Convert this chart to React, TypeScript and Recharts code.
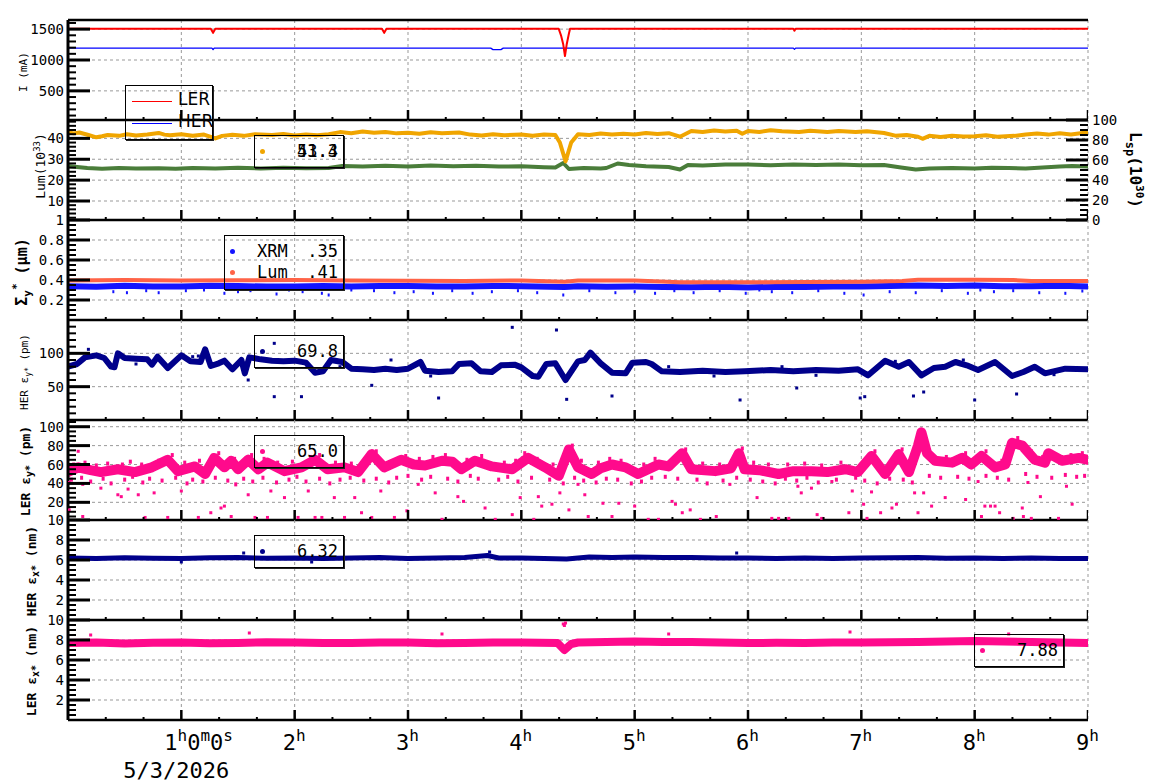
import React from "react";
import {
  ComposedChart,
  Line,
  Scatter,
  XAxis,
  YAxis,
  CartesianGrid,
  ReferenceLine,
  Legend,
  Label,
} from "recharts";

const MONO = "'DejaVu Sans Mono', monospace";
const SANS = "'DejaVu Sans', sans-serif";

// hours on the time axis (0h .. 9h), minor ticks every 20 min
const HOURS = [1, 2, 3, 4, 5, 6, 7, 8, 9];
const X_TICKS = [0, ...HOURS].flatMap((h) => (h < 9 ? [h, h + 1 / 3, h + 2 / 3] : [h]));
const DATE_LABEL = "5/3/2026";

// ---- panel 1 : beam currents (mA) ----
const LER_I = [[0, 1505], [1.26, 1505], [1.28, 1440], [1.3, 1505], [2.77, 1505], [2.79, 1440], [2.81, 1505], [4.33, 1505], [4.35, 1400], [4.37, 1250], [4.385, 1065], [4.4, 1250], [4.42, 1430], [4.43, 1505], [6.4, 1505], [6.41, 1475], [6.42, 1505], [9, 1505]];
const HER_I = [[0, 1192], [1.27, 1192], [1.28, 1168], [1.29, 1192], [3.73, 1192], [3.75, 1168], [3.82, 1168], [3.84, 1192], [6.4, 1192], [6.41, 1172], [6.42, 1192], [9, 1192]];

// ---- panel 2 : luminosity (left, 1e33) and specific lum (right, 1e30) ----
const LUM = [[0, 43], [0.05, 42.4], [0.1, 42.8], [0.18, 41.6], [0.25, 40.5], [0.3, 41], [0.35, 41.6], [0.45, 41.2], [0.52, 42], [0.6, 41.4], [0.7, 41.9], [0.8, 42.6], [0.85, 41.8], [0.9, 41.5], [1.0, 42], [1.1, 41.3], [1.2, 41.8], [1.3, 40], [1.36, 41.2], [1.45, 41.7], [1.55, 41.2], [1.65, 42], [1.8, 41.6], [1.9, 42.1], [2.0, 41.4], [2.1, 41.9], [2.2, 41.5], [2.3, 42], [2.4, 43], [2.5, 42.5], [2.6, 43.3], [2.7, 42.7], [2.8, 43.1], [2.9, 42.4], [3.0, 42.7], [3.1, 42.2], [3.2, 42.9], [3.3, 42.5], [3.45, 42.8], [3.55, 41.8], [3.65, 41.4], [3.75, 42], [3.85, 41.5], [4.0, 41.9], [4.1, 41.3], [4.2, 41.8], [4.3, 41.6], [4.34, 38], [4.39, 29], [4.44, 38], [4.5, 42], [4.6, 41.6], [4.7, 42.3], [4.8, 41.8], [4.9, 42.2], [5.0, 41.9], [5.1, 42.6], [5.2, 42.1], [5.3, 42.5], [5.4, 40.8], [5.5, 43.5], [5.6, 43.1], [5.7, 43.8], [5.8, 43.3], [5.9, 43.7], [5.95, 42.2], [6.0, 43.5], [6.1, 43.1], [6.2, 43.9], [6.3, 43.4], [6.45, 43], [6.55, 43.6], [6.7, 43.1], [6.8, 43.5], [6.95, 43], [7.05, 43.4], [7.2, 42.6], [7.3, 41.3], [7.4, 41.6], [7.5, 40.8], [7.54, 39.8], [7.6, 41.2], [7.7, 40.7], [7.8, 41.3], [7.9, 40.9], [8.0, 41], [8.1, 41.5], [8.2, 40.8], [8.35, 41.2], [8.45, 41.9], [8.55, 42.3], [8.65, 41.8], [8.75, 42.4], [8.85, 41.9], [8.95, 42.6], [9, 43]];
const LSP = [[0, 54], [0.08, 53], [0.17, 52], [0.3, 51.2], [0.45, 52], [0.6, 51.4], [0.8, 51.8], [0.95, 51.2], [1.1, 52], [1.3, 51.5], [1.5, 52.2], [1.7, 51.6], [1.9, 52.3], [2.1, 51.7], [2.3, 52.1], [2.42, 54], [2.6, 53.4], [2.8, 54.2], [3.0, 53.6], [3.2, 54.5], [3.4, 53.7], [3.6, 54.2], [3.8, 53.4], [4.0, 53.8], [4.2, 52.8], [4.3, 52.5], [4.37, 57], [4.42, 51], [4.55, 52], [4.7, 51.5], [4.75, 52], [4.85, 56.5], [4.95, 55], [5.1, 53.8], [5.3, 53], [5.4, 50.5], [5.47, 55], [5.6, 54.6], [5.8, 55.4], [6.0, 55.5], [6.2, 54.8], [6.4, 55.4], [6.6, 55], [6.8, 55.6], [7.0, 54.8], [7.2, 55], [7.35, 52.5], [7.48, 50.5], [7.6, 51.6], [7.8, 52], [8.0, 51.4], [8.15, 52.2], [8.3, 52], [8.45, 51.6], [8.6, 52.5], [8.75, 53.4], [8.86, 54], [9, 53.5]];

// ---- panel 3 : vertical beam size (um) ----
const SIG_XRM = [[0, 0.338], [0.25, 0.333], [0.5, 0.342], [0.75, 0.336], [1, 0.336], [1.25, 0.342], [1.5, 0.34], [1.75, 0.334], [2, 0.336], [2.25, 0.341], [2.5, 0.335], [2.75, 0.339], [3, 0.34], [3.25, 0.334], [3.5, 0.335], [3.75, 0.34], [4, 0.338], [4.38, 0.33], [4.5, 0.338], [4.75, 0.333], [5, 0.335], [5.25, 0.331], [5.5, 0.328], [5.75, 0.332], [6, 0.326], [6.25, 0.331], [6.5, 0.33], [6.75, 0.336], [7, 0.335], [7.25, 0.34], [7.5, 0.345], [7.75, 0.34], [8, 0.344], [8.25, 0.338], [8.5, 0.338], [8.75, 0.342], [9, 0.336]];
const SIG_LUM = [[0, 0.395], [0.5, 0.4], [1, 0.396], [1.5, 0.398], [2, 0.4], [2.5, 0.396], [3, 0.393], [3.5, 0.39], [4, 0.395], [4.38, 0.383], [4.5, 0.395], [5, 0.395], [5.4, 0.378], [6, 0.378], [6.5, 0.38], [7, 0.382], [7.36, 0.39], [7.5, 0.403], [8, 0.403], [8.34, 0.4], [8.5, 0.39], [9, 0.39]];
const SIG_XRM_OUT = [[0.4, 0.283], [0.52, 0.273], [0.69, 0.293], [0.8, 0.273], [1.04, 0.293], [1.2, 0.3], [1.38, 0.267], [1.5, 0.283], [1.61, 0.293], [1.84, 0.26], [1.95, 0.3], [2.07, 0.283], [2.24, 0.267], [2.3, 0.25], [2.5, 0.3], [2.7, 0.293], [2.88, 0.273], [3.05, 0.283], [3.22, 0.267], [3.39, 0.293], [3.57, 0.267], [3.74, 0.283], [3.97, 0.293], [4.14, 0.273], [4.37, 0.25], [4.6, 0.293], [4.83, 0.273], [5.0, 0.283], [5.18, 0.267], [5.35, 0.293], [5.52, 0.273], [5.75, 0.293], [5.98, 0.267], [6.1, 0.3], [6.21, 0.283], [6.39, 0.273], [6.62, 0.293], [6.85, 0.267], [7.02, 0.25], [7.25, 0.283], [7.48, 0.273], [7.71, 0.293], [7.94, 0.267], [8.05, 0.3], [8.17, 0.283], [8.34, 0.293], [8.57, 0.273], [8.8, 0.267], [8.95, 0.29]];

// ---- panel 4 : HER vertical emittance (pm) ----
const HER_EY = [[0, 80], [0.08, 84], [0.15, 94], [0.25, 97], [0.32, 93], [0.38, 80], [0.41, 79], [0.44, 100], [0.5, 93], [0.6, 92], [0.7, 91], [0.74, 83], [0.79, 95], [0.88, 78], [1.0, 97], [1.08, 88], [1.17, 87], [1.21, 106], [1.26, 81], [1.33, 85], [1.38, 89], [1.45, 76], [1.53, 90], [1.56, 70], [1.6, 94], [1.7, 91], [1.8, 89], [1.9, 88], [2.0, 89], [2.1, 86], [2.18, 71], [2.25, 73], [2.32, 90], [2.42, 87], [2.5, 77], [2.6, 76], [2.7, 75], [2.8, 77], [2.9, 75], [3.0, 77], [3.11, 87], [3.15, 74], [3.27, 72], [3.39, 73], [3.45, 84], [3.56, 85], [3.64, 73], [3.74, 72], [3.82, 82], [3.94, 83], [4.0, 79], [4.1, 66], [4.15, 65], [4.22, 84], [4.3, 85], [4.39, 60], [4.5, 88], [4.56, 90], [4.61, 101], [4.7, 85], [4.8, 71], [4.92, 70], [4.98, 86], [5.1, 87], [5.15, 84], [5.24, 73], [5.4, 72], [5.6, 74], [5.8, 72], [5.97, 73], [6.2, 75], [6.4, 73], [6.6, 75], [6.8, 74], [6.97, 76], [7.06, 67], [7.21, 89], [7.33, 80], [7.42, 87], [7.53, 67], [7.64, 78], [7.74, 80], [7.83, 87], [7.93, 82], [8.03, 75], [8.18, 87], [8.33, 66], [8.43, 72], [8.53, 80], [8.62, 70], [8.8, 77], [9.0, 76]];
const HER_EY_OUT = [[0.18, 106], [1.15, 96], [1.59, 60], [1.82, 35], [1.82, 115], [2.06, 35], [2.68, 52], [2.85, 90], [3.27, 33], [3.92, 139], [4.31, 135], [4.4, 31], [4.8, 36], [5.93, 30], [6.43, 48], [6.99, 33], [7.03, 35], [7.46, 36], [7.55, 42], [8.0, 30], [8.37, 39], [0.6, 84], [1.1, 95], [2.4, 80], [3.2, 66], [3.6, 78], [4.05, 72], [5.3, 80], [5.7, 66], [6.3, 80], [6.6, 67], [7.3, 88], [7.9, 90], [8.7, 68]];

// ---- panel 5 : LER vertical emittance (pm) ----
const LER_EY = [[0, 52], [0.09, 57], [0.2, 54], [0.29, 52], [0.44, 55], [0.59, 52], [0.74, 57], [0.88, 65], [0.97, 53], [1.12, 58], [1.21, 50], [1.29, 67], [1.38, 57], [1.44, 64], [1.5, 55], [1.59, 65], [1.68, 55], [1.76, 62], [1.91, 53], [2.06, 57], [2.18, 65], [2.29, 55], [2.44, 57], [2.56, 52], [2.68, 71], [2.79, 57], [2.94, 65], [3.05, 60], [3.15, 59], [3.3, 64], [3.39, 63], [3.47, 55], [3.59, 64], [3.74, 58], [3.92, 55], [4.06, 67], [4.21, 57], [4.33, 48], [4.42, 76], [4.5, 57], [4.62, 50], [4.7, 56], [4.8, 60], [4.92, 57], [5.03, 50], [5.21, 60], [5.3, 58], [5.42, 72], [5.5, 55], [5.71, 53], [5.85, 56], [5.92, 72], [5.97, 55], [6.1, 54], [6.27, 50], [6.4, 53], [6.56, 53], [6.7, 52], [6.86, 55], [6.97, 52], [7.09, 69], [7.21, 50], [7.33, 71], [7.42, 52], [7.5, 80], [7.53, 94], [7.58, 72], [7.65, 64], [7.8, 62], [7.89, 67], [7.97, 60], [8.06, 69], [8.18, 57], [8.27, 60], [8.33, 83], [8.42, 80], [8.53, 65], [8.62, 62], [8.65, 72], [8.77, 64], [8.92, 67], [9.0, 65]];
const LER_EY_UPPER = [[0.05, 60], [0.15, 62], [0.25, 59], [0.35, 61], [0.48, 60], [0.55, 63], [0.65, 60], [0.8, 64], [0.92, 70], [1.03, 62], [1.16, 64], [1.25, 60], [1.33, 72], [1.47, 66], [1.62, 70], [1.73, 66], [1.85, 62], [1.98, 63], [2.14, 68], [2.22, 70], [2.36, 62], [2.5, 61], [2.64, 66], [2.72, 74], [2.86, 63], [2.98, 69], [3.1, 66], [3.22, 68], [3.33, 70], [3.52, 65], [3.65, 69], [3.85, 62], [3.95, 64], [4.03, 72], [4.14, 66], [4.28, 60], [4.45, 80], [4.53, 64], [4.68, 62], [4.78, 66], [4.88, 64], [5.08, 60], [5.18, 66], [5.35, 66], [5.45, 76], [5.6, 61], [5.75, 60], [5.95, 77], [6.05, 62], [6.18, 60], [6.35, 60], [6.5, 61], [6.65, 59], [6.82, 62], [7.0, 60], [7.12, 74], [7.28, 62], [7.36, 76], [7.62, 70], [7.75, 68], [7.92, 72], [8.02, 66], [8.1, 74], [8.24, 64], [8.38, 88], [8.5, 74], [8.6, 68], [8.7, 70], [8.85, 70], [8.95, 72]];
const LER_EY_FRINGE = [[0.03, 44], [0.12, 46], [0.2, 42], [0.31, 45], [0.38, 40], [0.5, 44], [0.57, 47], [0.66, 41], [0.72, 45], [0.83, 43], [0.95, 46], [1.05, 40], [1.1, 44], [1.19, 42], [1.3, 46], [1.41, 43], [1.48, 39], [1.55, 45], [1.63, 42], [1.72, 46], [1.84, 41], [1.95, 44], [2.02, 47], [2.1, 42], [2.22, 45], [2.31, 40], [2.4, 44], [2.49, 46], [2.61, 43], [2.72, 45], [2.83, 41], [2.9, 46], [3.0, 48], [3.12, 44], [3.2, 47], [3.35, 45], [3.44, 42], [3.55, 48], [3.62, 45], [3.8, 44], [3.88, 47], [3.97, 42], [4.09, 46], [4.25, 44], [4.37, 40], [4.47, 46], [4.55, 43], [4.66, 41], [4.75, 45], [4.85, 44], [4.97, 40], [5.06, 42], [5.15, 46], [5.27, 47], [5.38, 45], [5.55, 44], [5.64, 40], [5.78, 43], [5.9, 46], [6.02, 44], [6.13, 42], [6.24, 40], [6.33, 45], [6.43, 43], [6.52, 46], [6.62, 41], [6.78, 44], [6.95, 46], [7.03, 43], [7.14, 40], [7.25, 45], [7.37, 44], [7.45, 41], [7.6, 48], [7.7, 46], [7.85, 47], [7.95, 45], [8.1, 48], [8.2, 46], [8.3, 44], [8.45, 50], [8.55, 47], [8.68, 46], [8.8, 49], [8.9, 47], [8.97, 48]];
const LER_EY_OUT = [[0.09, 74], [0.01, 41], [0.13, 39], [0.29, 35], [0.44, 28], [0.53, 34], [0.62, 28], [0.76, 30], [0.01, 12], [0.13, 5], [0.47, 26], [0.68, 4], [0.88, 4], [1.0, 32], [1.15, 4], [1.26, 9], [1.35, 14], [1.38, 16], [1.44, 5], [1.59, 28], [1.65, 4], [1.76, 4], [1.79, 32], [1.91, 25], [2.03, 4], [2.12, 32], [2.18, 4], [2.24, 4], [2.35, 25], [2.44, 4], [2.53, 25], [2.59, 9], [2.68, 4], [2.76, 32], [2.88, 4], [2.99, 11], [3.09, 39], [3.24, 30], [3.3, 2], [3.44, 26], [3.49, 21], [3.68, 14], [3.77, 2], [3.92, 7], [3.99, 25], [4.11, 2], [4.15, 26], [4.18, 16], [4.27, 18], [4.34, 30], [4.42, 12], [4.5, 39], [4.56, 28], [4.59, 5], [4.72, 19], [4.8, 5], [4.86, 19], [5.0, 16], [5.12, 2], [5.21, 2], [5.33, 21], [5.36, 18], [5.42, 9], [5.49, 12], [5.58, 2], [5.72, 5], [5.84, 39], [6.08, 25], [6.21, 3], [6.27, 3], [6.36, 3], [6.44, 37], [6.47, 30], [6.56, 35], [6.61, 7], [6.65, 3], [6.74, 42], [6.89, 9], [6.92, 32], [7.02, 18], [7.05, 3], [7.09, 31], [7.17, 9], [7.27, 14], [7.31, 18], [7.47, 30], [7.5, 9], [7.55, 30], [7.62, 16], [7.74, 25], [7.92, 23], [8.03, 42], [8.06, 5], [8.09, 16], [8.14, 16], [8.18, 16], [8.22, 9], [8.34, 3], [8.42, 14], [8.43, 5], [8.47, 41], [8.5, 3], [8.58, 26], [8.74, 3], [8.81, 37], [8.86, 18]];

// ---- panel 6 : HER horizontal emittance (nm) ----
const HER_EX = [[0, 6.2], [0.25, 6.15], [0.5, 6.22], [0.75, 6.17], [1, 6.15], [1.25, 6.22], [1.5, 6.25], [1.75, 6.18], [2, 6.2], [2.25, 6.15], [2.5, 6.2], [2.75, 6.24], [3, 6.15], [3.25, 6.2], [3.5, 6.25], [3.7, 6.45], [3.8, 6.2], [4, 6.2], [4.2, 6.16], [4.4, 6.1], [4.6, 6.3], [4.8, 6.26], [5, 6.3], [5.25, 6.24], [5.5, 6.25], [5.75, 6.2], [6, 6.2], [6.25, 6.16], [6.5, 6.2], [6.75, 6.15], [7, 6.2], [7.25, 6.22], [7.5, 6.25], [7.75, 6.18], [8, 6.2], [8.25, 6.15], [8.5, 6.2], [8.75, 6.14], [9, 6.15]];
const HER_EX_OUT = [[1.0, 5.8], [1.55, 6.7], [3.72, 6.8], [5.9, 6.7], [2.15, 5.8]];

// ---- panel 7 : LER horizontal emittance (nm) ----
const LER_EX = [[0, 7.7], [0.25, 7.75], [0.5, 7.65], [0.75, 7.72], [1, 7.75], [1.25, 7.68], [1.5, 7.7], [1.75, 7.78], [2, 7.75], [2.25, 7.7], [2.5, 7.7], [2.75, 7.76], [3, 7.75], [3.25, 7.68], [3.5, 7.7], [3.75, 7.74], [4, 7.75], [4.32, 7.7], [4.38, 7.0], [4.44, 7.6], [4.5, 7.75], [4.75, 7.8], [5, 7.85], [5.25, 7.8], [5.5, 7.8], [5.75, 7.74], [6, 7.7], [6.25, 7.72], [6.5, 7.7], [6.75, 7.74], [7, 7.75], [7.25, 7.78], [7.5, 7.8], [7.75, 7.84], [8, 7.9], [8.25, 7.84], [8.5, 7.8], [8.75, 7.75], [9, 7.7]];
const LER_EX_OUT = [[4.37, 9.6], [4.38, 9.45], [4.39, 9.7], [0.2, 8.5], [1.6, 8.7], [3.3, 8.6], [5.3, 8.6], [6.9, 8.8], [8.3, 8.6]];

// latest values shown in the boxes
const LEG_LUM = ["43.4", "51.3"];
const LEG_SIG = { xrm: ".35", lum: ".41" };
const LEG_HER_EY = "69.8";
const LEG_LER_EY = "65.0";
const LEG_HER_EX = "6.32";
const LEG_LER_EX = "7.88";

const C = {
  ler: "#ff0000",
  her: "#0000ff",
  lum: "#f0a500",
  lsp: "#4a7d3a",
  xrm: "#1414ff",
  slum: "#ff6347",
  navy: "#00008b",
  pink: "#ff0a8c",
  grid: "#999999",
};

const pts = (a: number[][]) => a.map(([t, v]) => ({ t, v }));
const near = (a: number[], v: number) => a.some((m) => Math.abs(m - v) < 1e-6);
const isHour = (t: number) => Math.abs(t - Math.round(t)) < 1e-6;
const scaleOf = (axis: any, v: number) => {
  const s = axis?.scale;
  if (!s) return -100;
  return typeof s === "function" ? s(v) : s.map ? s.map(v) : -100;
};

function yTick(labels: number[], side: "left" | "right" = "left") {
  return (p: any) => {
    const v = p.payload.value as number;
    const major = near(labels, v);
    const dir = side === "left" ? 1 : -1;
    const ax = p.x + 4 * dir;
    return (
      <g>
        <line x1={ax} x2={ax + dir * (major ? 22 : 8)} y1={p.y} y2={p.y} stroke="#000" strokeWidth={major ? 3 : 2} />
        {major && (
          <text x={p.x} y={p.y} dy={5} textAnchor={side === "left" ? "end" : "start"} fontFamily={MONO} fontSize={14} fill="#000">
            {String(v)}
          </text>
        )}
      </g>
    );
  };
}

// time labels under the last panel
function xLabel(p: any) {
  const v = p.payload.value as number;
  if (!(v > 0 && isHour(v))) return <g />;
  if (v === 1)
    return (
      <g>
        <text x={p.x - 17} y={p.y + 30} fontFamily={MONO} fontSize={22} fill="#000">
          1<tspan dy={-9} fontSize={16}>h</tspan>
          <tspan dy={9}>0</tspan>
          <tspan dy={-9} fontSize={16}>m</tspan>
          <tspan dy={9}>0</tspan>
          <tspan dy={-9} fontSize={16}>s</tspan>
        </text>
        <text x={p.x - 58} y={p.y + 58} fontFamily={MONO} fontSize={22} fill="#000">
          {DATE_LABEL}
        </text>
      </g>
    );
  return (
    <text x={p.x - 12} y={p.y + 30} fontFamily={MONO} fontSize={22} fill="#000">
      {Math.round(v)}
      <tspan dy={-9} fontSize={16}>h</tspan>
    </text>
  );
}

function vTitle(dx: number, dy: number, size: number, bold: boolean, body: React.ReactNode, rot = -90) {
  return (props: any) => {
    const vb = props.viewBox || { x: 0, y: 0, width: 0, height: 100 };
    const cx = vb.x + dx;
    const cy = vb.y + vb.height / 2 + dy;
    return (
      <text transform={`translate(${cx},${cy}) rotate(${rot})`} textAnchor="middle" fontFamily={MONO} fontSize={size} fontWeight={bold ? "bold" : "normal"} fill="#000">
        {body}
      </text>
    );
  };
}

const sq = (color: string, w = 3, h = 3) => (p: any) => <rect x={p.cx - w / 2} y={p.cy - h / 2} width={w} height={h} fill={color} />;
// inward time tick standing on the bottom edge of a panel
const tickShape = (p: any) => {
  const major = isHour(p.payload.t);
  const len = major ? 10 : 3;
  const w = major ? 2.5 : 2;
  return <rect x={p.cx - w / 2} y={p.cy - len} width={w} height={len} fill="#000" />;
};

type Row = { color: string; name?: string; values: string[] };
function ValueBox({ w, h, rows }: { w: number; h: number; rows: Row[] }) {
  return (
    <div style={{ position: "relative", width: w, height: h, boxSizing: "border-box", border: "1px solid #000", boxShadow: "1px 1px 0 #222", fontFamily: MONO, fontSize: 17, color: "#000" }}>
      {rows.map((r, i) => (
        <React.Fragment key={i}>
          <span style={{ position: "absolute", left: 5, top: 13 + i * 21, width: 5, height: 5, borderRadius: "50%", background: r.color }} />
          {r.name && <span style={{ position: "absolute", left: 32, top: 5 + i * 21, lineHeight: "20px" }}>{r.name}</span>}
          {r.values.map((v) => (
            <span key={v} style={{ position: "absolute", right: 5, top: 5 + i * 21, lineHeight: "20px" }}>{v}</span>
          ))}
        </React.Fragment>
      ))}
    </div>
  );
}

function CurrentBox() {
  const row = (color: string, name: string, i: number) => (
    <React.Fragment key={name}>
      <span style={{ position: "absolute", left: 6, top: 15 + i * 22, width: 40, height: 1, background: color }} />
      <span style={{ position: "absolute", left: 52, top: 2 + i * 22, lineHeight: "22px" }}>{name}</span>
    </React.Fragment>
  );
  return (
    <div style={{ position: "relative", width: 88, height: 55, boxSizing: "border-box", border: "1px solid #000", boxShadow: "1px 1px 0 #222", fontFamily: SANS, fontSize: 17, color: "#000" }}>
      {row(C.ler, "LER", 0)}
      {row(C.her, "HER", 1)}
    </div>
  );
}

// svg of every panel is padded by PAD above and below the plot so edge labels are not cut
const PAD = 10;
const PANEL_H = 100;
const MARGIN = { top: PAD, right: 72, bottom: PAD, left: 0 };

const legendAt = (left: number, top: number, w: number, h: number, node: React.ReactNode) => (
  <Legend layout="horizontal" verticalAlign="middle" align="center" wrapperStyle={{ left, top: top + PAD, width: w, height: h, zIndex: 5 }} content={() => node} />
);

const gridProps = (majors: number[]) => ({
  stroke: C.grid,
  strokeDasharray: "3 3",
  horizontalCoordinatesGenerator: ({ yAxis }: any) => majors.map((v) => scaleOf(yAxis, v)),
  verticalCoordinatesGenerator: ({ xAxis }: any) => HOURS.map((h) => scaleOf(xAxis, h)),
});

function xAxisEl(last: boolean) {
  return (
    <XAxis
      dataKey="t"
      type="number"
      domain={[0, 9]}
      ticks={X_TICKS}
      interval={0}
      allowDataOverflow
      height={last ? 62 : 0}
      tickSize={0}
      tickMargin={0}
      tickLine={false}
      axisLine={false}
      tick={last ? xLabel : false}
    />
  );
}

function yAxisEl(domain: number[], ticks: number[], labels: number[], title: any, id?: string) {
  return (
    <YAxis
      yAxisId={id}
      dataKey="v"
      type="number"
      domain={domain}
      ticks={ticks}
      interval={0}
      allowDataOverflow
      width={68}
      tickSize={0}
      tickMargin={4}
      tickLine={false}
      axisLine={false}
      tick={yTick(labels)}
    >
      <Label content={title} />
    </YAxis>
  );
}

// black frame (bottom + left edge) and the inward time ticks on the bottom edge
function frame(domain: number[], id?: string) {
  const tickPts = X_TICKS.filter((t) => t > 0).map((t) => ({ t, v: domain[0] }));
  return [
    <ReferenceLine key="fb" yAxisId={id} y={domain[0]} stroke="#000" strokeWidth={2.5} ifOverflow="visible" />,
    <ReferenceLine key="fl" yAxisId={id} x={0} stroke="#000" strokeWidth={3} ifOverflow="visible" />,
    <Scatter key="xt" yAxisId={id} data={tickPts} dataKey="v" fill="#000" shape={tickShape} isAnimationActive={false} legendType="none" />,
  ];
}

const range = (a: number, b: number, step: number) => {
  const out: number[] = [];
  for (let i = 0; a + i * step <= b + 1e-9; i++) out.push(+(a + i * step).toFixed(4));
  return out;
};

const I_DOM = [28, 1648];
const LUM_DOM = [0.9, 48.8];
const LSP_DOM = [0, 100];
const SIG_DOM = [0, 1];
const HEY_DOM = [0, 150];
const LEY_DOM = [1.3, 107.1];
const EX_DOM = [0, 10];

function Panel({ top, children }: { top: number; children: React.ReactNode }) {
  return <div style={{ position: "absolute", left: 0, top: top - PAD }}>{children}</div>;
}

const H = PANEL_H + 2 * PAD;

export default function App() {
  const lineCommon = { type: "linear" as const, dot: false, isAnimationActive: false, strokeLinejoin: "round" as const, strokeLinecap: "round" as const, legendType: "none" as const };
  return (
    <div style={{ position: "absolute", left: 0, top: 0, width: 1160, height: 782, background: "#fff", overflow: "hidden" }}>
      {/* 1: currents */}
      <Panel top={20}>
        <ComposedChart width={1160} height={H} margin={MARGIN}>
          <CartesianGrid {...gridProps([500, 1000, 1500])} />
          {xAxisEl(false)}
          {yAxisEl(I_DOM, range(100, 1600, 100), [500, 1000, 1500], vTitle(27, 2, 11, false, "I (mA)"))}
          <Line {...lineCommon} data={pts(HER_I)} dataKey="v" stroke={C.her} strokeWidth={1.3} />
          <Line {...lineCommon} data={pts(LER_I)} dataKey="v" stroke={C.ler} strokeWidth={2} />
          <ReferenceLine y={I_DOM[1]} stroke="#000" strokeWidth={2.5} ifOverflow="visible" />
          {frame(I_DOM)}
          {legendAt(125, 65, 88, 55, <CurrentBox />)}
        </ComposedChart>
      </Panel>

      {/* 2: luminosity */}
      <Panel top={120}>
        <ComposedChart width={1160} height={H} margin={{ ...MARGIN, right: 0 }}>
          <CartesianGrid {...gridProps([10, 20, 30, 40])} yAxisId="l" />
          {xAxisEl(false)}
          {yAxisEl(LUM_DOM, range(2, 48, 2), [10, 20, 30, 40], vTitle(45, -4, 13, false, (
            <>
              Lum(10<tspan dy={-5} fontSize={9}>33</tspan>
              <tspan dy={5}>)</tspan>
            </>
          )), "l")}
          <YAxis
            yAxisId="r"
            orientation="right"
            dataKey="v"
            type="number"
            domain={LSP_DOM}
            ticks={range(0, 100, 5)}
            interval={0}
            allowDataOverflow
            width={72}
            tickSize={0}
            tickMargin={4}
            tickLine={false}
            axisLine={false}
            tick={yTick([0, 20, 40, 60, 80, 100], "right")}
          >
            <Label content={vTitle(42, 0, 16, true, (
              <>
                L<tspan dy={4} fontSize={12}>sp</tspan>
                <tspan dy={-4}>(10</tspan>
                <tspan dy={-6} fontSize={11}>30</tspan>
                <tspan dy={6}>)</tspan>
              </>
            ), 90)} />
          </YAxis>
          <Line {...lineCommon} yAxisId="r" data={pts(LSP)} dataKey="v" stroke={C.lsp} strokeWidth={4} />
          <Line {...lineCommon} yAxisId="l" data={pts(LUM)} dataKey="v" stroke={C.lum} strokeWidth={4} />
          {frame(LUM_DOM, "l")}
          {legendAt(254, 15, 90, 33, <ValueBox w={90} h={33} rows={[{ color: C.lum, values: LEG_LUM }]} />)}
        </ComposedChart>
      </Panel>

      {/* 3: beam size */}
      <Panel top={220}>
        <ComposedChart width={1160} height={H} margin={MARGIN}>
          <CartesianGrid {...gridProps([0.2, 0.4, 0.6, 0.8])} />
          {xAxisEl(false)}
          {yAxisEl(SIG_DOM, range(0.05, 1, 0.05), [0.2, 0.4, 0.6, 0.8, 1], vTitle(27, 2, 15, true, (
            <>
              Σ<tspan dy={4} fontSize={11}>y</tspan>
              <tspan dy={-11} fontSize={11}>*</tspan>
              <tspan dy={7}> (μm)</tspan>
            </>
          )))}
          <Scatter data={pts(SIG_XRM_OUT)} dataKey="v" fill={C.xrm} shape={sq(C.xrm, 2, 3)} isAnimationActive={false} legendType="none" />
          <Line {...lineCommon} data={pts(SIG_XRM)} dataKey="v" stroke={C.xrm} strokeWidth={6} />
          <Line {...lineCommon} data={pts(SIG_LUM)} dataKey="v" stroke={C.slum} strokeWidth={4} />
          {frame(SIG_DOM)}
          {legendAt(224, 15, 120, 55, (
            <ValueBox w={120} h={55} rows={[
              { color: C.xrm, name: "XRM", values: [LEG_SIG.xrm] },
              { color: C.slum, name: "Lum", values: [LEG_SIG.lum] },
            ]} />
          ))}
        </ComposedChart>
      </Panel>

      {/* 4: HER vertical emittance */}
      <Panel top={320}>
        <ComposedChart width={1160} height={H} margin={MARGIN}>
          <CartesianGrid {...gridProps([50, 100])} />
          {xAxisEl(false)}
          {yAxisEl(HEY_DOM, range(10, 140, 10), [50, 100], vTitle(28, 2, 11, false, (
            <>
              HER ε<tspan dy={3} fontSize={8}>y*</tspan>
              <tspan dy={-3}> (pm)</tspan>
            </>
          )))}
          <Scatter data={pts(HER_EY_OUT)} dataKey="v" fill={C.navy} shape={sq(C.navy)} isAnimationActive={false} legendType="none" />
          <Line {...lineCommon} data={pts(HER_EY)} dataKey="v" stroke={C.navy} strokeWidth={6} />
          {frame(HEY_DOM)}
          {legendAt(254, 15, 90, 33, <ValueBox w={90} h={33} rows={[{ color: C.navy, values: [LEG_HER_EY] }]} />)}
        </ComposedChart>
      </Panel>

      {/* 5: LER vertical emittance */}
      <Panel top={420}>
        <ComposedChart width={1160} height={H} margin={MARGIN}>
          <CartesianGrid {...gridProps([20, 40, 60, 80, 100])} />
          {xAxisEl(false)}
          {yAxisEl(LEY_DOM, range(5, 105, 5), [20, 40, 60, 80, 100], vTitle(30, 1, 13, true, (
            <>
              LER ε<tspan dy={3} fontSize={10}>y*</tspan>
              <tspan dy={-3}> (pm)</tspan>
            </>
          )))}
          <Scatter data={pts(LER_EY_OUT)} dataKey="v" fill={C.pink} shape={sq(C.pink)} isAnimationActive={false} legendType="none" />
          <Scatter data={pts(LER_EY_FRINGE)} dataKey="v" fill={C.pink} shape={sq(C.pink, 3, 4)} isAnimationActive={false} legendType="none" />
          <Scatter data={pts(LER_EY_UPPER)} dataKey="v" fill={C.pink} shape={sq(C.pink, 3, 4)} isAnimationActive={false} legendType="none" />
          <Line {...lineCommon} data={pts(LER_EY)} dataKey="v" stroke={C.pink} strokeWidth={10} />
          {frame(LEY_DOM)}
          {legendAt(254, 15, 90, 33, <ValueBox w={90} h={33} rows={[{ color: C.pink, values: [LEG_LER_EY] }]} />)}
        </ComposedChart>
      </Panel>

      {/* 6: HER horizontal emittance */}
      <Panel top={520}>
        <ComposedChart width={1160} height={H} margin={MARGIN}>
          <CartesianGrid {...gridProps([2, 4, 6, 8])} />
          {xAxisEl(false)}
          {yAxisEl(EX_DOM, range(0.5, 10, 0.5), [2, 4, 6, 8, 10], vTitle(36, 1, 13, true, (
            <>
              HER ε<tspan dy={3} fontSize={10}>x*</tspan>
              <tspan dy={-3}> (nm)</tspan>
            </>
          )))}
          <Scatter data={pts(HER_EX_OUT)} dataKey="v" fill={C.navy} shape={sq(C.navy)} isAnimationActive={false} legendType="none" />
          <Line {...lineCommon} data={pts(HER_EX)} dataKey="v" stroke={C.navy} strokeWidth={5} />
          {frame(EX_DOM)}
          {legendAt(254, 15, 90, 33, <ValueBox w={90} h={33} rows={[{ color: C.navy, values: [LEG_HER_EX] }]} />)}
        </ComposedChart>
      </Panel>

      {/* 7: LER horizontal emittance + time axis */}
      <Panel top={620}>
        <ComposedChart width={1160} height={PANEL_H + PAD + 62} margin={{ ...MARGIN, bottom: 0 }}>
          <CartesianGrid {...gridProps([2, 4, 6, 8])} />
          {xAxisEl(true)}
          {yAxisEl(EX_DOM, range(0.5, 10, 0.5), [2, 4, 6, 8, 10], vTitle(36, 1, 13, true, (
            <>
              LER ε<tspan dy={3} fontSize={10}>x*</tspan>
              <tspan dy={-3}> (nm)</tspan>
            </>
          )))}
          <Scatter data={pts(LER_EX_OUT)} dataKey="v" fill={C.pink} shape={sq(C.pink)} isAnimationActive={false} legendType="none" />
          <Line {...lineCommon} data={pts(LER_EX)} dataKey="v" stroke={C.pink} strokeWidth={8} />
          {frame(EX_DOM)}
          {legendAt(974, 14, 90, 33, <ValueBox w={90} h={33} rows={[{ color: C.pink, values: [LEG_LER_EX] }]} />)}
        </ComposedChart>
      </Panel>
    </div>
  );
}
